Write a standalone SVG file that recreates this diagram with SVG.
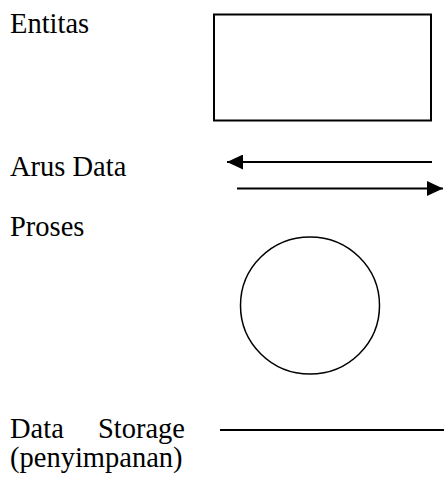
<svg xmlns="http://www.w3.org/2000/svg" width="444" height="479" viewBox="0 0 444 479">
<defs>
<style>
.lbl{font-family:"Liberation Serif","Times New Roman",serif;font-size:28.5px;fill:#000}
.shape{fill:none;stroke:#000}
</style>
<marker id="ah" viewBox="0 0 16 15" refX="16" refY="7.5" markerWidth="16" markerHeight="15" markerUnits="userSpaceOnUse" orient="auto">
<path d="M0,0 L16,7.5 L0,15 Z" fill="#000"/>
</marker>
</defs>
<rect width="444" height="479" fill="#fff"/>
<g id="entitas">
<text class="lbl" x="10" y="33">Entitas</text>
<rect class="shape" x="214" y="14.5" width="217" height="106" stroke-width="2"/>
</g>
<g id="arus-data">
<text class="lbl" x="10" y="176">Arus Data</text>
</g>
<g id="connectors">
<line x1="432" y1="162" x2="227" y2="162" stroke="#000" stroke-width="2.2" marker-end="url(#ah)"/>
<line x1="237" y1="188.5" x2="443" y2="188.5" stroke="#000" stroke-width="2.2" marker-end="url(#ah)"/>
</g>
<g id="proses">
<text class="lbl" x="10" y="236">Proses</text>
<ellipse class="shape" cx="310" cy="305.5" rx="69.5" ry="68.5" stroke-width="1.5"/>
</g>
<g id="data-storage">
<text class="lbl" x="10" y="438">Data</text>
<text class="lbl" x="185" y="438" text-anchor="end">Storage</text>
<text class="lbl" x="10" y="467">(penyimpanan)</text>
<line x1="220" y1="430" x2="444" y2="430" stroke="#000" stroke-width="1.8"/>
</g>
</svg>
